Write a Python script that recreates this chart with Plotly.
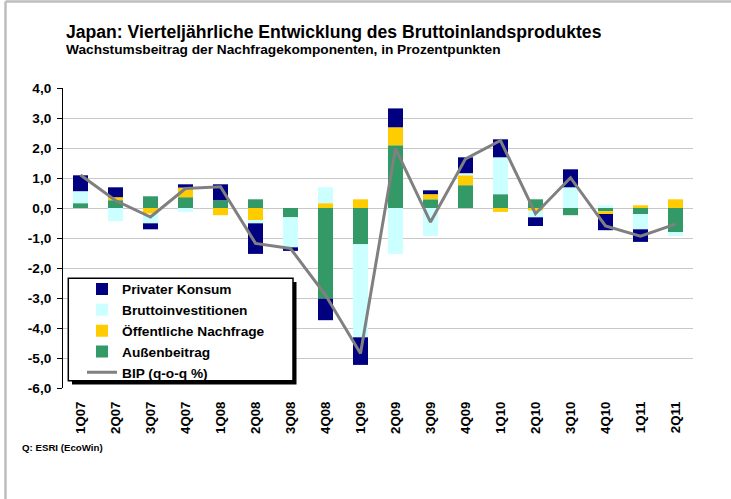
import plotly.graph_objects as go

quarters = ["1Q07", "2Q07", "3Q07", "4Q07", "1Q08", "2Q08", "3Q08", "4Q08", "1Q09",
            "2Q09", "3Q09", "4Q09", "1Q10", "2Q10", "3Q10", "4Q10", "1Q11", "2Q11"]

privater_konsum = [0.53, 0.33, -0.20, 0.11, 0.53, -1.02, -0.12, -0.72, -0.92,
                   0.63, 0.13, 0.53, 0.60, -0.29, 0.60, -0.54, -0.42, 0.0]
bruttoinvestitionen = [0.40, -0.44, -0.32, -0.13, 0.0, -0.11, -1.00, 0.53, -3.10,
                       -1.53, -0.93, 0.07, 1.23, -0.22, 0.69, 0.09, -0.51, -0.13]
oeffentliche_nachfrage = [0.0, 0.10, -0.19, 0.32, -0.24, -0.40, 0.0, 0.16, 0.29,
                          0.60, 0.17, 0.33, -0.13, -0.09, 0.0, -0.09, 0.09, 0.29]
aussenbeitrag = [0.16, 0.26, 0.39, 0.36, 0.26, 0.29, -0.31, -3.02, -1.21,
                 2.09, 0.29, 0.76, 0.46, 0.29, -0.24, -0.11, -0.20, -0.80]
bip = [1.10, 0.25, -0.30, 0.65, 0.71, -1.18, -1.35, -2.90, -4.85,
       1.98, -0.47, 1.64, 2.25, -0.19, 1.01, -0.60, -0.94, -0.54]

y_ticks = [4, 3, 2, 1, 0, -1, -2, -3, -4, -5, -6]
y_ticktext = ["4,0", "3,0", "2,0", "1,0", "0,0", "-1,0", "-2,0", "-3,0", "-4,0", "-5,0", "-6,0"]
year_boundaries = [3.5, 7.5, 11.5, 15.5]

FONT = "Liberation Sans, Arial, sans-serif"
W, H = 731, 499
L, R, T, B = 63, 38, 88, 111
PW, PH = W - L - R, H - T - B


def px(x):
    return (x - L) / PW


def py(y):
    return (H - B - y) / PH


fig = go.Figure()

# stacking order from the zero line outwards
fig.add_trace(go.Bar(x=quarters, y=aussenbeitrag, name="Außenbeitrag",
                     marker=dict(color="#339966", line=dict(width=0)), legendrank=4))
fig.add_trace(go.Bar(x=quarters, y=oeffentliche_nachfrage, name="Öffentliche Nachfrage",
                     marker=dict(color="#FFCC00", line=dict(width=0)), legendrank=3))
fig.add_trace(go.Bar(x=quarters, y=bruttoinvestitionen, name="Bruttoinvestitionen",
                     marker=dict(color="#CCFFFF", line=dict(width=0)), legendrank=2))
fig.add_trace(go.Bar(x=quarters, y=privater_konsum, name="Privater Konsum",
                     marker=dict(color="#000080", line=dict(width=0)), legendrank=1))
fig.add_trace(go.Scatter(x=quarters, y=bip, name="BIP (q-o-q %)", mode="lines",
                         line=dict(color="#808080", width=3), legendrank=5))

shapes = [
    # legend shadow and box
    dict(type="rect", xref="paper", yref="paper", x0=px(72), x1=px(296.5), y0=py(384.5), y1=py(282),
         fillcolor="black", line=dict(width=0), layer="above"),
    dict(type="rect", xref="paper", yref="paper", x0=px(68.3), x1=px(293), y0=py(380.7), y1=py(278.3),
         fillcolor="white", line=dict(color="black", width=1.5), layer="above"),
    # outer frame
    dict(type="line", xref="paper", yref="paper", x0=px(5.5), x1=px(731), y0=py(1.5), y1=py(1.5),
         line=dict(color="#BDBDBD", width=2.5)),
    dict(type="line", xref="paper", yref="paper", x0=px(5.5), x1=px(5.5), y0=py(1.5), y1=py(499),
         line=dict(color="#BDBDBD", width=2.5)),
]

annotations = [
    dict(text="Japan: Vierteljährliche Entwicklung des Bruttoinlandsproduktes",
         xref="paper", yref="paper", x=px(64), y=py(32.5), xanchor="left", yanchor="middle",
         showarrow=False, font=dict(family=FONT, size=17.6, color="black", weight="bold")),
    dict(text="Wachstumsbeitrag der Nachfragekomponenten, in Prozentpunkten",
         xref="paper", yref="paper", x=px(64), y=py(50), xanchor="left", yanchor="middle",
         showarrow=False, font=dict(family=FONT, size=13.7, color="black", weight="bold")),
    dict(text="Q: ESRI (EcoWin)",
         xref="paper", yref="paper", x=px(20), y=py(447), xanchor="left", yanchor="middle",
         showarrow=False, font=dict(family=FONT, size=9.7, color="black", weight="bold")),
]

fig.update_layout(
    width=W, height=H,
    margin=dict(l=L, r=R, t=T, b=B),
    paper_bgcolor="white", plot_bgcolor="white",
    barmode="relative", bargap=0.57,
    font=dict(family=FONT, color="black"),
    showlegend=True,
    legend=dict(x=px(82), y=py(273.6), xanchor="left", yanchor="top",
                bgcolor="rgba(0,0,0,0)", borderwidth=0, traceorder="normal",
                font=dict(family=FONT, size=13.7, color="black", weight="bold")),
    xaxis=dict(type="category", categoryorder="array", categoryarray=quarters,
               range=[-0.5, len(quarters) - 0.5], showgrid=False, showline=False, zeroline=False,
               ticks="", tickangle=-90, ticklabelstandoff=10,
               tickfont=dict(family=FONT, size=13.2, color="black", weight="bold")),
    xaxis2=dict(overlaying="x", anchor="free", position=0.6, side="bottom",
                range=[-0.5, len(quarters) - 0.5], tickvals=year_boundaries,
                showticklabels=False, ticks="outside", ticklen=4, tickcolor="#404040", tickwidth=1.5,
                showgrid=True, gridcolor="#C8C8C8", gridwidth=1,
                showline=True, linecolor="#404040", linewidth=1.5, zeroline=False),
    yaxis=dict(range=[-6, 4], tickvals=y_ticks, ticktext=y_ticktext,
               showgrid=True, gridcolor="#C8C8C8", gridwidth=1, zeroline=False,
               showline=True, linecolor="black", linewidth=1, mirror=False,
               ticks="outside", ticklen=5, tickcolor="black", ticklabelstandoff=3,
               tickfont=dict(family=FONT, size=13.6, color="black", weight="bold")),
    shapes=shapes,
    annotations=annotations,
)

fig.write_html("out.html", config={"displayModeBar": False},
               post_script="document.body.style.margin='0';document.body.style.overflow='hidden';")
